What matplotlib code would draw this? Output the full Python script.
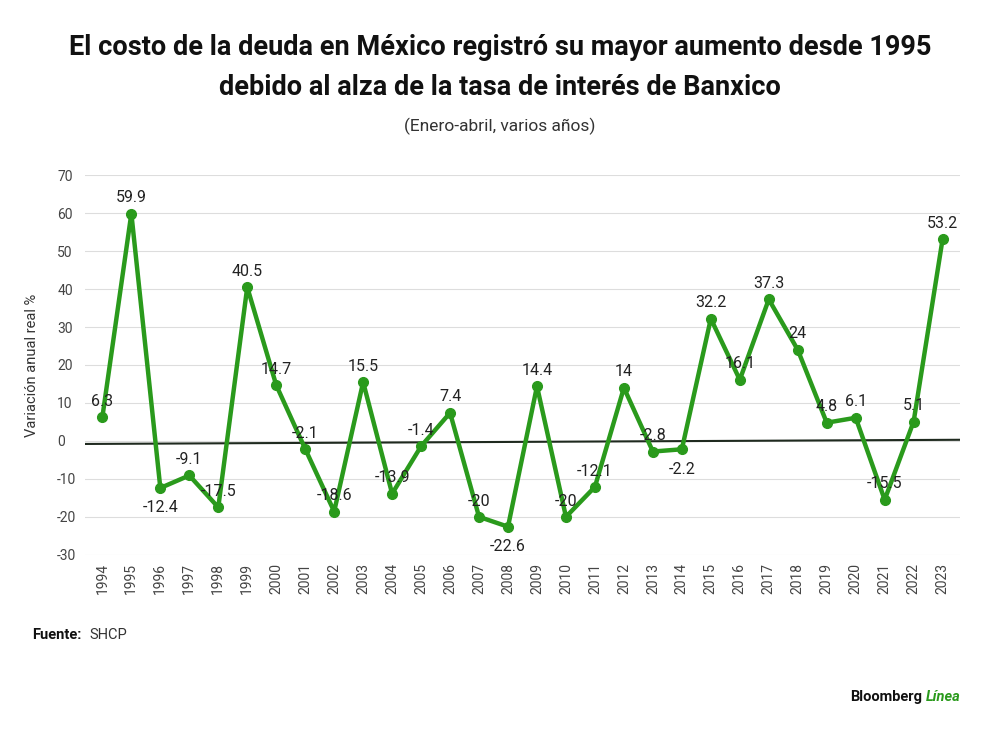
import matplotlib.pyplot as plt

plt.rcParams['font.family'] = ['Roboto', 'DejaVu Sans']
plt.rcParams['axes.unicode_minus'] = False

years = [str(y) for y in range(1994, 2024)]
values = [6.3, 59.9, -12.4, -9.1, -17.5, 40.5, 14.7, -2.1, -18.6, 15.5, -13.9, -1.4, 7.4, -20, -22.6,
          14.4, -20, -12.1, 14, -2.8, -2.2, 32.2, 16.1, 37.3, 24, 4.8, 6.1, -15.5, 5.1, 53.2]
labels = ["6.3", "59.9", "-12.4", "-9.1", "-17.5", "40.5", "14.7", "-2.1", "-18.6", "15.5", "-13.9",
          "-1.4", "7.4", "-20", "-22.6", "14.4", "-20", "-12.1", "14", "-2.8", "-2.2", "32.2", "16.1",
          "37.3", "24", "4.8", "6.1", "-15.5", "5.1", "53.2"]
# label offsets: above (1) or below (-1)
pos = [1, 1, -1, 1, 1, 1, 1, 1, 1, 1, 1, 1, 1, 1, -1, 1, 1, 1, 1, 1, -1, 1, 1, 1, 1, 1, 1, 1, 1, 1]
trend = [-0.8, 0.3]

fig = plt.figure(figsize=(10, 7.3), dpi=100)
ax = fig.add_axes([0.085, 0.24, 0.875, 0.52])
x = range(len(years))
ax.plot(x, values, color="#2a9a1c", lw=3.2, marker="o", ms=7, zorder=3)
ax.plot([-0.6, 29.6], trend, color="#1f2a1f", lw=1.5, zorder=2)
for i, v in enumerate(values):
    off = 6 if pos[i] > 0 else -9
    ax.annotate(labels[i], (i, v), xytext=(0, off), textcoords="offset points",
                ha="center", va="bottom" if pos[i] > 0 else "top", fontsize=11.5, color="#222222", zorder=4)

ax.set_xlim(-0.6, 29.6)
ax.set_ylim(-30, 70)
ax.set_yticks(range(-30, 71, 10))
ax.set_xticks(list(x))
ax.set_xticklabels(years, rotation=90, fontsize=10, color="#444444")
ax.tick_params(axis="y", labelsize=10, labelcolor="#444444", length=0, pad=20)
for t in ax.get_yticklabels():
    t.set_ha("left")
ax.tick_params(axis="x", length=0, pad=6)
ax.grid(axis="y", color="#dddddd", lw=0.8)
for s in ax.spines.values():
    s.set_visible(False)
ax.set_ylabel("Variación anual real %", fontsize=10.5, color="#333333")
ax.yaxis.set_label_coords(-0.052, 0.5)

fig.text(0.5, 0.925, "El costo de la deuda en México registró su mayor aumento desde 1995",
         ha="center", fontsize=19.5, fontweight="bold", color="#111111")
fig.text(0.5, 0.87, "debido al alza de la tasa de interés de Banxico",
         ha="center", fontsize=19.5, fontweight="bold", color="#111111")
fig.text(0.5, 0.82, "(Enero-abril, varios años)", ha="center", fontsize=12.5, color="#333333")
fig.text(0.032, 0.125, "Fuente:", fontsize=10.5, fontweight="bold", color="#111111")
fig.text(0.089, 0.125, "SHCP", fontsize=10.5, color="#333333")
fig.text(0.922, 0.04, "Bloomberg", ha="right", fontsize=10.5, fontweight="bold", color="#111111")
fig.text(0.926, 0.04, "Línea", ha="left", fontsize=10.5, fontweight="bold", style="italic", color="#2a9a1c")

fig.savefig("out.png")
